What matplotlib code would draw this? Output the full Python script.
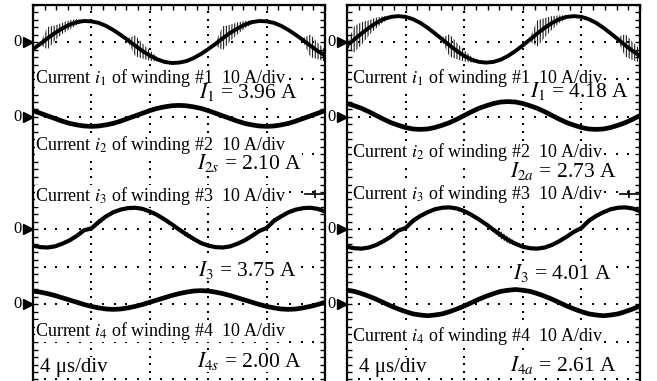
import numpy as np
import matplotlib
matplotlib.use("Agg")
import matplotlib.pyplot as plt
from matplotlib.patches import Rectangle

plt.rcParams['font.family'] = ['Liberation Serif', 'DejaVu Serif']
plt.rcParams['mathtext.fontset'] = 'stix'
plt.rcParams['hatch.linewidth'] = 0.8

# time base: 4 us/div, samples every 0.5 us across 5 divisions
t_us = np.arange(0, 20.01, 0.5)
us_per_div = 4.0
amp_per_div = 10.0  # 10 A/div

# zero level of each channel (division row from the top)
zero_rows = [1, 3, 6, 8]

# ---- left panel (symmetrical) currents, A ----
left_i1 = [-1.9, -0.5, 1.0, 2.4, 3.6, 4.6, 5.3, 5.6, 5.5, 5.1, 4.3, 3.2, 1.9, 0.5, -1.0, -2.4, -3.6, -4.6, -5.3, -5.6,
           -5.5, -5.1, -4.3, -3.2, -1.9, -0.5, 1.0, 2.4, 3.6, 4.6, 5.3, 5.6, 5.5, 5.1, 4.3, 3.2, 1.9, 0.5, -1.0, -2.4, -3.6]
left_i2 = [1.7, 1.0, 0.3, -0.4, -1.1, -1.7, -2.1, -2.4, -2.5, -2.4, -2.1, -1.7, -1.1, -0.4, 0.3, 1.0, 1.7, 2.3, 2.7, 3.0,
           3.1, 3.0, 2.7, 2.3, 1.7, 1.0, 0.3, -0.4, -1.1, -1.7, -2.1, -2.4, -2.5, -2.4, -2.1, -1.7, -1.1, -0.4, 0.3, 1.0, 1.7]
left_i3 = [-4.3, -4.7, -4.8, -4.5, -3.8, -2.9, -1.7, -0.2, 0.3, 2.0, 3.5, 4.6, 5.3, 5.7, 5.8, 5.5, 4.8, 3.9, 2.7, 1.4,
           0.0, -1.3, -2.5, -3.6, -4.3, -4.7, -4.8, -4.5, -3.8, -2.9, -1.7, -0.4, 0.4, 2.3, 3.5, 4.6, 5.3, 5.7, 5.8, 5.5, 4.8]
left_i4 = [3.6, 3.3, 2.9, 2.4, 1.8, 1.2, 0.6, 0.0, -0.5, -0.9, -1.2, -1.3, -1.2, -0.9, -0.5, 0.0, 0.6, 1.2, 1.8, 2.4,
           2.9, 3.3, 3.6, 3.7, 3.6, 3.3, 2.9, 2.4, 1.8, 1.2, 0.6, 0.0, -0.5, -0.9, -1.2, -1.3, -1.2, -0.9, -0.5, 0.0, 0.6]
# ringing envelope (half width, A)
left_ring1 = [0, 0.3, 3.0, 2.0, 1.5, 1.2, 0.8, 0.2, 0, 0, 0, 0, 0, 0.5, 2.8, 2.0, 1.4, 0.6, 0, 0,
              0, 0, 0, 0, 0, 0.5, 3.2, 2.2, 1.6, 1.0, 0.5, 0, 0, 0, 0, 0, 0, 0.5, 3.0, 2.2, 1.6]
left_ring3 = [0, 0, 0, 0, 0, 0, 0, 0, 0.6, 0.8, 0.5, 0, 0, 0, 0, 0, 0, 0, 0, 0,
              0.5, 0.8, 0.6, 0.3, 0, 0, 0, 0, 0, 0, 0, 0, 0.6, 0.8, 0.5, 0.2, 0, 0, 0, 0, 0]

# ---- right panel (asymmetrical) currents, A ----
right_i1 = [-0.9, 0.7, 2.3, 3.8, 5.1, 6.1, 6.7, 6.9, 6.7, 6.1, 5.1, 3.8, 2.3, 0.7, -0.9, -2.4, -3.7, -4.7, -5.3, -5.5,
            -5.3, -4.7, -3.7, -2.4, -0.9, 0.7, 2.3, 3.8, 5.1, 6.1, 6.7, 6.9, 6.7, 6.1, 5.1, 3.8, 2.3, 0.7, -0.9, -2.4, -3.7]
right_i2 = [3.6, 3.0, 2.3, 1.4, 0.4, -0.6, -1.5, -2.2, -2.8, -3.2, -3.3, -3.2, -2.8, -2.2, -1.5, -0.6, 0.4, 1.4, 2.3, 3.0,
            3.6, 4.0, 4.1, 4.0, 3.6, 3.0, 2.3, 1.4, 0.4, -0.6, -1.5, -2.2, -2.8, -3.2, -3.3, -3.2, -2.8, -2.2, -1.5, -0.6, 0.4]
right_i3 = [-4.6, -5.0, -5.1, -4.8, -4.1, -3.1, -1.9, -0.3, 0.4, 2.3, 3.6, 4.6, 5.4, 5.8, 5.9, 5.6, 4.9, 3.9, 2.7, 1.4,
            -0.1, -1.5, -2.8, -3.8, -4.6, -5.0, -5.1, -4.8, -4.1, -3.1, -1.9, -0.6, 0.4, 2.3, 3.6, 4.6, 5.4, 5.8, 5.9, 5.6, 4.9]
right_i4 = [3.8, 3.5, 2.9, 2.2, 1.4, 0.5, -0.4, -1.2, -1.9, -2.5, -2.8, -3.0, -2.8, -2.5, -1.9, -1.2, -0.4, 0.5, 1.4, 2.2,
            2.9, 3.5, 3.8, 4.0, 3.8, 3.5, 2.9, 2.2, 1.4, 0.5, -0.4, -1.2, -1.9, -2.5, -2.8, -3.0, -2.8, -2.5, -1.9, -1.2, -0.4]
right_ring1 = [0.5, 3.5, 3.0, 2.0, 1.4, 0.8, 0.3, 0, 0, 0, 0, 0, 0, 0.5, 3.0, 2.2, 1.5, 0.8, 0.3, 0,
               0, 0, 0, 0, 0, 0.6, 3.5, 2.6, 1.8, 1.0, 0.4, 0, 0, 0, 0, 0, 0, 0.6, 3.0, 2.4, 1.8]
right_ring3 = [0, 0, 0, 0, 0, 0, 0, 0, 0.5, 0.7, 0.5, 0.2, 0, 0, 0, 0, 0, 0, 0, 0,
               0.6, 1.0, 0.9, 0.5, 0, 0, 0, 0, 0, 0, 0, 0, 0.5, 0.7, 0.5, 0.2, 0, 0, 0, 0, 0]

left_rms = [r'$I_1$ = 3.96 A', r'$I_{2s}$ = 2.10 A', r'$I_3$ = 3.75 A', r'$I_{4s}$ = 2.00 A']
right_rms = [r'$I_1$ = 4.18 A', r'$I_{2a}$ = 2.73 A', r'$I_3$ = 4.01 A', r'$I_{4a}$ = 2.61 A']
channel_labels = [r'Current $i_%d$ of winding #%d  10 A/div' % (n, n) for n in range(1, 5)]
time_label = '4 μs/div'

W, H = 657, 381
fig = plt.figure(figsize=(W / 100, H / 100), dpi=100)

div_px_y = 37.5
top_px = 4.5
ybottom = 10.5


def make_panel(x0_px, x1_px):
    h_px = ybottom * div_px_y
    ax = fig.add_axes([x0_px / W, 1 - (top_px + h_px) / H, (x1_px - x0_px) / W, h_px / H])
    ax.set_xlim(0, 5)
    ax.set_ylim(ybottom, 0)
    for s in ax.spines.values():
        s.set_linewidth(1.6)
    ax.spines['bottom'].set_visible(False)
    ax.set_xticks(np.arange(0, 5.01, 0.2))
    ax.set_yticks(np.arange(0, ybottom, 0.2))
    ax.tick_params(direction='in', length=3.5, width=1.0, top=True, bottom=False,
                   left=True, right=True, labelleft=False, labelbottom=False)
    # dotted graticule
    gy = np.arange(0.2, ybottom, 0.2)
    for gx in range(1, 5):
        ax.scatter(np.full_like(gy, gx), gy, s=2.2, marker='s', color='k', lw=0, zorder=1)
    gx_pts = np.arange(0.2, 5, 0.2)
    for row in range(1, 11):
        ax.scatter(gx_pts, np.full_like(gx_pts, row), s=2.2, marker='s', color='k', lw=0, zorder=1)
    # zero markers
    for row in zero_rows:
        ax.plot([-0.085], [row], marker='>', ms=7.5, color='k', clip_on=False, zorder=5)
        ax.text(-0.19, row, '0', ha='right', va='center', fontsize=12, clip_on=False)
    return ax


def draw_trace(ax, cur, zero, ring=None, lw=3.4):
    x = t_us / us_per_div
    y = zero - np.array(cur) / amp_per_div
    if ring is not None:
        r = np.array(ring) / amp_per_div
        ax.fill_between(x, y - r, y + r, where=r > 0, facecolor='none',
                        edgecolor='0.1', hatch='||||||', lw=0, zorder=4)
    ax.plot(x, y, color='k', lw=lw, solid_capstyle='butt', solid_joinstyle='round', zorder=4)


box = dict(facecolor='white', edgecolor='none', pad=0.1)
value_texts = []

# left panel
axL = make_panel(33, 325)
draw_trace(axL, left_i1, zero_rows[0], left_ring1, lw=2.8)
draw_trace(axL, left_i2, zero_rows[1])
draw_trace(axL, left_i3, zero_rows[2], left_ring3, lw=3.0)
draw_trace(axL, left_i4, zero_rows[3])
for lab, yb in zip(channel_labels, [2.09, 3.88, 5.24, 8.84]):
    axL.text(0.04, yb, lab, fontsize=13, va='baseline', ha='left', bbox=box, zorder=3)
for lab, yb, xr in zip(left_rms, [2.49, 4.40, 7.24, 9.67], [4.54, 4.61, 4.52, 4.61]):
    value_texts.append((axL, axL.text(xr, yb, lab, fontsize=15.5, va='baseline', ha='right', zorder=6)))
axL.text(0.12, 9.79, time_label, fontsize=15, va='baseline', ha='left', bbox=box, zorder=3)
axL.plot([4.66, 5.0], [5.05, 5.05], color='k', lw=1.2, zorder=5)
axL.plot([4.83], [5.05], marker='|', ms=6, mew=1.2, color='k', zorder=5)

# right panel
axR = make_panel(347, 640)
draw_trace(axR, right_i1, zero_rows[0], right_ring1, lw=2.8)
draw_trace(axR, right_i2, zero_rows[1])
draw_trace(axR, right_i3, zero_rows[2], right_ring3, lw=3.0)
draw_trace(axR, right_i4, zero_rows[3])
for lab, yb in zip(channel_labels, [2.10, 4.06, 5.19, 8.97]):
    axR.text(0.09, yb, lab, fontsize=13, va='baseline', ha='left', bbox=box, zorder=3)
for lab, yb, xr in zip(right_rms, [2.48, 4.61, 7.33, 9.77], [4.81, 4.61, 4.52, 4.61]):
    value_texts.append((axR, axR.text(xr, yb, lab, fontsize=15.5, va='baseline', ha='right', zorder=6)))
axR.text(0.2, 9.79, time_label, fontsize=15, va='baseline', ha='left', bbox=box, zorder=3)
axR.plot([4.66, 5.0], [5.05, 5.05], color='k', lw=1.2, zorder=5)
axR.plot([4.81], [5.05], marker='|', ms=6, mew=1.2, color='k', zorder=5)

# white backing under the value texts so the graticule dots don't show through
fig.canvas.draw()
renderer = fig.canvas.get_renderer()
for ax, t in value_texts:
    bb = t.get_window_extent(renderer).transformed(ax.transData.inverted())
    ax.add_patch(Rectangle((bb.x0, min(bb.y0, bb.y1)), bb.width, abs(bb.height),
                           facecolor='white', edgecolor='none', zorder=2))

fig.savefig('out.png', dpi=100)
